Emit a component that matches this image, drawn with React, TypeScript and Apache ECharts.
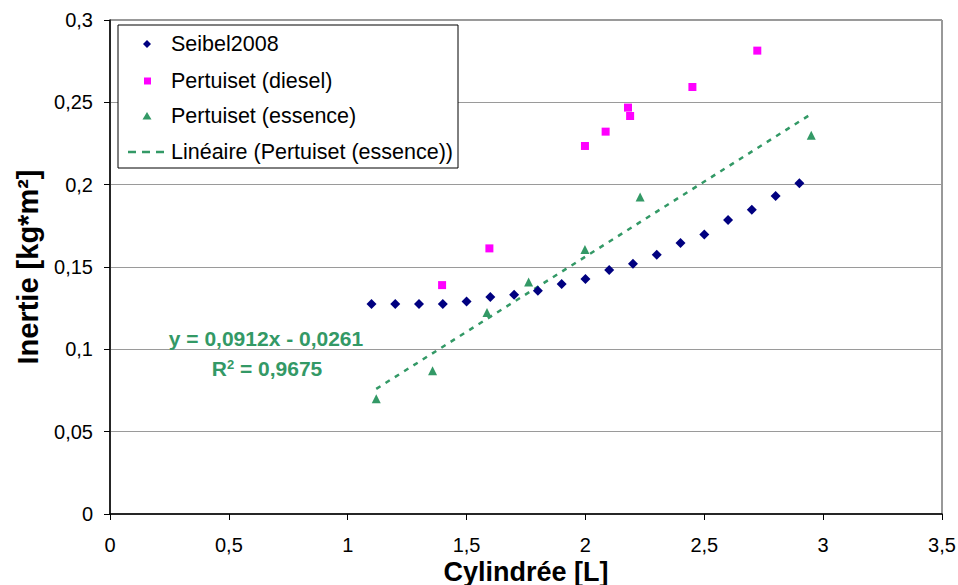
import React, { useEffect, useRef } from "react";
import * as echarts from "echarts";

const seibelX = [1.1, 1.2, 1.3, 1.4, 1.5, 1.6, 1.7, 1.8, 1.9, 2.0, 2.1, 2.2, 2.3, 2.4, 2.5, 2.6, 2.7, 2.8, 2.9];
const seibelY = [0.1275, 0.1275, 0.1275, 0.1275, 0.129, 0.1318, 0.1332, 0.1356, 0.1397, 0.1427, 0.1482, 0.152, 0.1575, 0.1645, 0.1697, 0.1785, 0.1848, 0.1931, 0.2008];

const dieselX = [1.397, 1.596, 1.998, 2.085, 2.179, 2.188, 2.45, 2.723];
const dieselY = [0.139, 0.1613, 0.2235, 0.2322, 0.2468, 0.2417, 0.2593, 0.2814];

const essenceX = [1.12, 1.357, 1.586, 1.761, 1.998, 2.23, 2.95];
const essenceY = [0.0700, 0.087, 0.1223, 0.1409, 0.1607, 0.1925, 0.23];

const trendX = [1.12, 2.95];
const trendY = [0.0760, 0.2429];

const xTicks = ["0", "0,5", "1", "1,5", "2", "2,5", "3", "3,5"];
const yTicks = ["0", "0,05", "0,1", "0,15", "0,2", "0,25", "0,3"];

const seriesNames = ["Seibel2008", "Pertuiset (diesel)", "Pertuiset (essence)", "Linéaire (Pertuiset (essence))"];
const equationLines = ["y = 0,0912x - 0,0261", "R", "2", " = 0,9675"];

const FONT = "'Liberation Sans', Arial, sans-serif";
const NAVY = "#000080";
const MAGENTA = "#FF00FF";
const GREEN = "#339966";

function zip(xs: number[], ys: number[]) {
  return xs.map((x, i) => [x, ys[i]]);
}

function fmt(v: number, ticks: string[], step: number) {
  const idx = Math.round(v / step);
  return ticks[idx] ?? "";
}

export default function App() {
  const ref = useRef<HTMLDivElement>(null);
  useEffect(() => {
    if (!ref.current) return;
    const chart = echarts.init(ref.current, undefined, { renderer: "svg" });
    const legendX = 118;
    const legendY = 25;
    const rowY = [44, 81, 116, 152];
    const option: any = {
      animation: false,
      backgroundColor: "#ffffff",
      textStyle: { fontFamily: FONT },
      grid: {
        left: 110,
        right: 16,
        top: 20,
        bottom: 71,
        containLabel: false,
        outerBoundsMode: "none",
        show: true,
        borderColor: "#333333",
        borderWidth: 1,
        backgroundColor: "transparent",
      },
      xAxis: {
        type: "value",
        min: 0,
        max: 3.5,
        interval: 0.5,
        name: "Cylindrée [L]",
        nameLocation: "middle",
        nameGap: 44,
        nameMoveOverlap: false,
        nameTextStyle: { fontFamily: FONT, fontSize: 27, fontWeight: "bold", color: "#000" },
        axisLine: { show: true, onZero: false, lineStyle: { color: "#000", width: 1.5 } },
        axisTick: { show: true, length: 6, inside: false, lineStyle: { color: "#000" } },
        axisLabel: {
          fontFamily: FONT,
          fontSize: 20,
          color: "#000",
          margin: 21,
          formatter: (v: number) => fmt(v, xTicks, 0.5),
        },
        splitLine: { show: false },
      },
      yAxis: {
        type: "value",
        min: 0,
        max: 0.3,
        interval: 0.05,
        name: "Inertie [kg*m²]",
        nameLocation: "middle",
        nameGap: 68,
        nameMoveOverlap: false,
        nameRotate: 90,
        nameTextStyle: { fontFamily: FONT, fontSize: 29, fontWeight: "bold", color: "#000" },
        axisLine: { show: true, onZero: false, lineStyle: { color: "#000", width: 1.5 } },
        axisTick: { show: true, length: 6, inside: false, lineStyle: { color: "#000" } },
        axisLabel: {
          fontFamily: FONT,
          fontSize: 20,
          color: "#000",
          margin: 17,
          formatter: (v: number) => fmt(v, yTicks, 0.05),
        },
        splitLine: { show: true, lineStyle: { color: "#9a9a9a", width: 1 } },
      },
      series: [
        {
          name: seriesNames[3],
          type: "line",
          data: zip(trendX, trendY),
          symbol: "none",
          lineStyle: { color: GREEN, width: 2.5, type: [5, 6] },
          z: 1,
        },
        {
          name: seriesNames[0],
          type: "scatter",
          data: zip(seibelX, seibelY),
          symbol: "diamond",
          symbolSize: 10,
          itemStyle: { color: NAVY, opacity: 1 },
          z: 3,
        },
        {
          name: seriesNames[1],
          type: "scatter",
          data: zip(dieselX, dieselY),
          symbol: "rect",
          symbolSize: 8,
          itemStyle: { color: MAGENTA, opacity: 1 },
          z: 3,
        },
        {
          name: seriesNames[2],
          type: "scatter",
          data: zip(essenceX, essenceY),
          symbol: "triangle",
          symbolSize: 9,
          itemStyle: { color: GREEN, opacity: 1 },
          z: 3,
        },
      ],
      graphic: [
        {
          type: "rect",
          shape: { x: legendX, y: legendY, width: 340, height: 143 },
          style: { fill: "#fff", stroke: "#000", lineWidth: 1 },
          z: 10,
        },
        {
          type: "polygon",
          shape: { points: [[147, rowY[0] - 4], [151, rowY[0]], [147, rowY[0] + 4], [143, rowY[0]]] },
          style: { fill: NAVY },
          z: 11,
        },
        {
          type: "rect",
          shape: { x: 144, y: rowY[1] - 3.5, width: 7, height: 7 },
          style: { fill: MAGENTA },
          z: 11,
        },
        {
          type: "polygon",
          shape: { points: [[147, rowY[2] - 4], [151.5, rowY[2] + 3.5], [142.5, rowY[2] + 3.5]] },
          style: { fill: GREEN },
          z: 11,
        },
        {
          type: "line",
          shape: { x1: 128, y1: rowY[3], x2: 166, y2: rowY[3] },
          style: { stroke: GREEN, lineWidth: 2.5, lineDash: [8, 6] },
          z: 11,
        },
        ...seriesNames.map((n, i) => ({
          type: "text",
          x: 171,
          y: rowY[i],
          style: { text: n, fontFamily: FONT, fontSize: 21.5, fill: "#000", verticalAlign: "middle", textAlign: "left" },
          z: 11,
        })),
        {
          type: "text",
          x: 266,
          y: 338,
          style: {
            text: equationLines[0],
            fontFamily: FONT,
            fontSize: 21,
            fontWeight: "bold",
            fill: GREEN,
            textAlign: "center",
            verticalAlign: "middle",
          },
          z: 11,
        },
        {
          type: "text",
          x: 267,
          y: 368,
          style: {
            text: "{a|" + equationLines[1] + "}{s|" + equationLines[2] + "}{a|" + equationLines[3] + "}",
            fontFamily: FONT,
            fontSize: 21,
            fontWeight: "bold",
            fill: GREEN,
            textAlign: "center",
            verticalAlign: "middle",
            rich: {
              a: { fontFamily: FONT, fontSize: 21, fontWeight: "bold", fill: GREEN, color: GREEN },
              s: { fontFamily: FONT, fontSize: 13, fontWeight: "bold", fill: GREEN, color: GREEN, verticalAlign: "top", padding: [0, 0, 8, 0] },
            },
          },
          z: 11,
        },
      ],
    };
    chart.setOption(option);
    return () => chart.dispose();
  }, []);
  return <div ref={ref} style={{ width: 958, height: 585, position: "absolute", left: 0, top: 0 }} />;
}
